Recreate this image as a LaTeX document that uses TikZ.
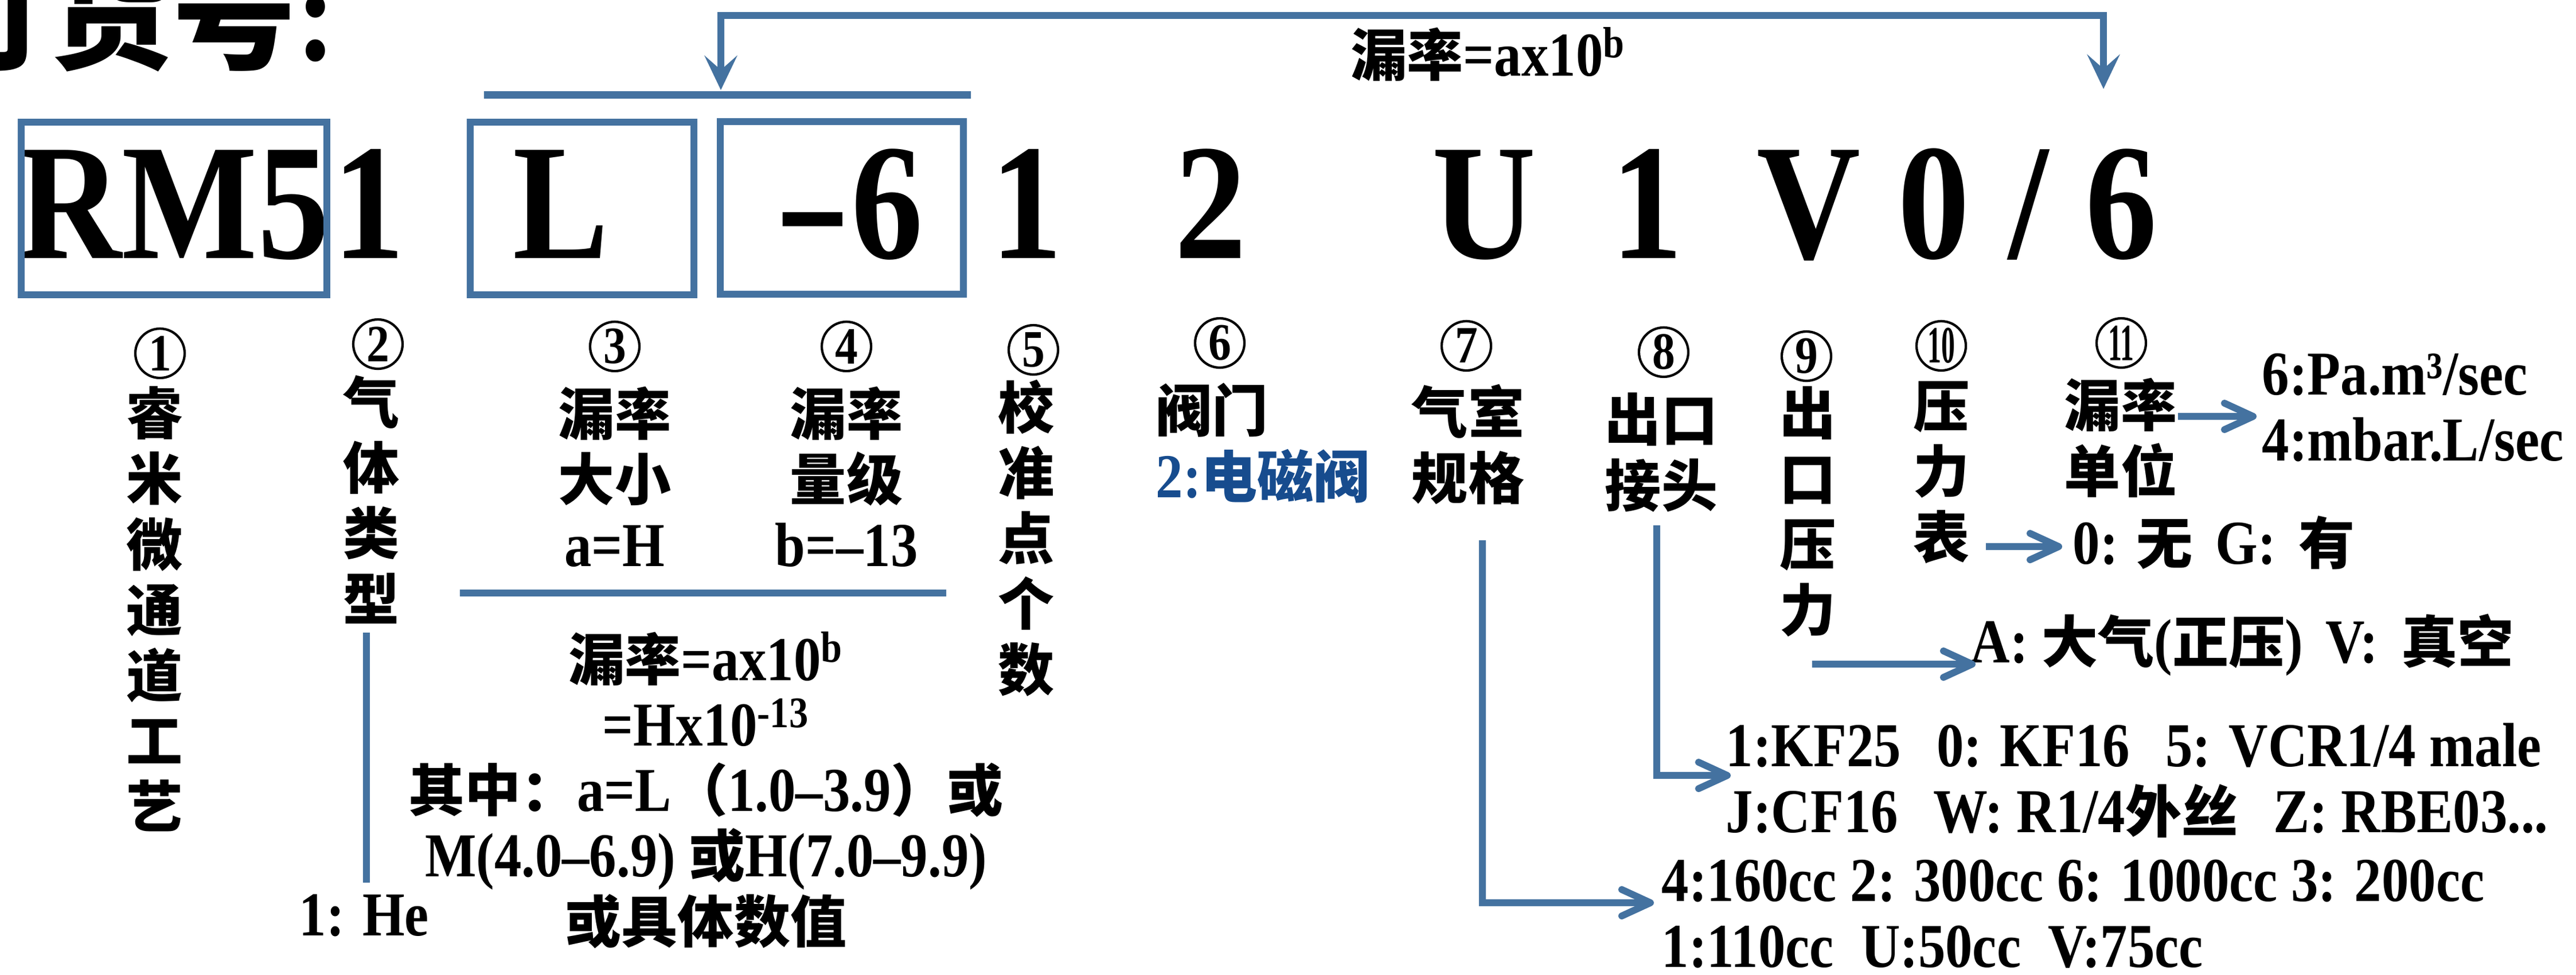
\documentclass[tikz,border=0pt]{standalone}
\usepackage{fontspec}
\setmainfont{Liberation Serif}[FakeStretch=0.87]
\newfontfamily\zhfont{Noto Sans CJK SC}[Scale=0.9]
\usetikzlibrary{arrows.meta,positioning,calc}

\definecolor{lineblue}{RGB}{68,114,160}
\definecolor{textblue}{RGB}{23,76,142}
\newcommand{\zh}[1]{{\zhfont #1}}

\begin{document}
\begin{tikzpicture}[
    code/.style={font=\fontsize{82}{82}\selectfont\bfseries, inner sep=0pt, anchor=base},
    codebox/.style={draw=lineblue, line width=3.6pt, inner sep=0pt},
    num/.style={circle, draw, line width=1.2pt, minimum size=0.86cm, inner sep=0pt, font=\fontsize{26}{26}\selectfont\bfseries},
    stack/.style={font=\fontsize{31}{32.5}\selectfont\bfseries\zhfont, align=center, inner sep=0pt, anchor=base},
    lab/.style={font=\fontsize{31}{32.5}\selectfont\bfseries, align=center, inner sep=0pt, anchor=base},
    txt/.style={font=\fontsize{31}{32.5}\selectfont\bfseries, align=left, inner sep=0pt, anchor=base west},
    bline/.style={draw=lineblue, line width=3.4pt},
    arr/.style={bline, -{Straight Barb[length=5mm,width=4.6mm,round]}},
    dblarr/.style={bline, {Stealth[length=6mm,width=5.7mm,inset=2.5mm]}-{Stealth[length=6mm,width=5.7mm,inset=2.5mm]}}
]
\useasboundingbox (0,0) rectangle (44.92,-16.99);
\clip (0,0) rectangle (44.92,-16.99);

% Title (cut off at the top)
\node[anchor=base west, inner sep=0pt, font=\fontsize{68}{68}\selectfont\bfseries] (title) at (-1.29,-1.04) {\zh{订货号}:};

% Order code
\node[code] (cRM) at (3.035,-4.50) {RM5};
\node[code] (cGas) at (6.43,-4.50) {1};
\node[code] (cL) at (9.78,-4.50) {L};
\node[code] (cExp) at (14.80,-4.50) {\scalebox{1.6}[1]{-}6};
\node[code] (cCal) at (17.90,-4.50) {1};
\node[code] (cVal) at (21.11,-4.50) {2};
\node[code] (cCh) at (25.88,-4.50) {U};
\node[code] (cOut) at (28.72,-4.50) {1};
\node[code] (cPr) at (31.54,-4.50) {V};
\node[code] (cGa) at (33.72,-4.50) {0};
\node[code] (cSl) at (35.37,-4.50) {/};
\node[code] (cUn) at (36.99,-4.50) {6};

% Boxes round the code parts
\node[codebox, minimum width=5.33cm, minimum height=3.01cm] (bRM) at (3.035,-3.635) {};
\node[codebox, minimum width=3.90cm, minimum height=3.01cm] (bL) at (10.15,-3.635) {};
\node[codebox, minimum width=4.24cm, minimum height=3.01cm] (bExp) at (14.68,-3.625) {};

% Leak rate bracket on top
\coordinate (hatL) at (8.44,-1.655);
\coordinate (hatR) at (16.93,-1.655);
\draw[bline, line width=3.7pt] (hatL) -- (hatR);
\coordinate (upL) at (12.57,-1.57);
\coordinate (upR) at (36.68,-1.55);
\draw[dblarr] (upL) -- ++(0,1.30) -| (upR);
\node[lab] (top) at (25.95,-1.32) {\zh{漏率}=ax10\textsuperscript{b}};

% Circled numbers
\node[num] (n1) at (2.79,-6.16) {1};
\node[num] (n2) at (6.59,-6.00) {2};
\node[num] (n3) at (10.72,-6.04) {3};
\node[num] (n4) at (14.76,-6.04) {4};
\node[num] (n5) at (18.02,-6.10) {5};
\node[num] (n6) at (21.27,-5.98) {6};
\node[num] (n7) at (25.57,-6.03) {7};
\node[num] (n8) at (29.01,-6.14) {8};
\node[num] (n9) at (31.50,-6.21) {9};
\node[num] (n10) at (33.85,-6.03) {\scalebox{0.6}[1]{10}};
\node[num] (n11) at (36.99,-5.98) {\scalebox{0.6}[1]{11}};

% Labels under the numbers (base = last line)
\node[stack] (lab1) at (2.70,-14.43) {睿\\米\\微\\通\\道\\工\\艺};
\node[stack] (lab2) at (6.48,-10.81) {气\\体\\类\\型};
\node[lab] (lab3) at (10.72,-9.87) {\zh{漏率}\\\zh{大小}\\a=H};
\node[lab] (lab4) at (14.76,-9.87) {\zh{漏率}\\\zh{量级}\\b=--13};
\node[stack] (lab5) at (17.90,-12.04) {校\\准\\点\\个\\数};
\node[txt] (lab6) at (20.15,-8.67) {\zh{阀门}\\{\color{textblue}2:\zh{电磁阀}}};
\node[stack] (lab7) at (25.60,-8.70) {气室\\规格};
\node[stack] (lab8) at (28.97,-8.83) {出口\\接头};
\node[stack] (lab9) at (31.52,-11.00) {出\\口\\压\\力};
\node[stack] (lab10) at (33.85,-9.73) {压\\力\\表};
\node[stack] (lab11) at (36.98,-8.58) {漏率\\单位};

% Gas type
\coordinate (s2) at (6.39,-11.03);
\node[txt] (gas) at (5.21,-16.31) {1: He};
\draw[bline] (s2) -- ++(0,-4.36);

% Leak rate explanation
\draw[bline] (8.02,-10.34) -- (16.50,-10.34);
\node[lab] (leak) at (12.31,-16.43) {\zh{漏率}=ax10\textsuperscript{b}\\=Hx10\textsuperscript{-13}\\\zh{其中：}a=L\zh{（}1.0--3.9\zh{）或}\\M(4.0--6.9) \zh{或}H(7.0--9.9)\\\zh{或具体数值}};

% Option lists on the right
\node[txt] (units) at (39.44,-8.03) {6:Pa.m³/sec\\4:mbar.L/sec};
\node[txt] (gauge) at (36.14,-9.83) {0: \zh{无}\hspace{0.4cm}G:\hspace{0.4cm}\zh{有}};
\node[txt] (pres) at (34.36,-11.55) {A: \zh{大气}(\zh{正压})\hspace{0.4cm}V:\hspace{0.4cm}\zh{真空}};
\node[txt] (port) at (30.09,-14.51) {1:KF25\hspace{0.62cm}0: KF16\hspace{0.62cm}5: VCR1/4 male\\J:CF16\hspace{0.62cm}W: R1/4\zh{外丝}\hspace{0.62cm}Z: RBE03...};
\node[txt] (cham) at (28.97,-16.86) {4:160cc 2: 300cc 6: 1000cc 3: 200cc\\1:110cc\ \ U:50cc\ \ V:75cc};

% Arrows to the option lists
\coordinate (s7) at (25.85,-9.42);
\coordinate (s8) at (28.89,-9.16);
\coordinate (s9) at (31.60,-11.58);
\coordinate (s10) at (34.63,-9.53);
\coordinate (s11) at (37.98,-7.26);
\draw[arr] (s7) |- ($(cham.base west)+(-0.13,1.12)$);
\draw[arr] (s8) |- ($(port.base west)+(0.09,0.99)$);
\draw[arr] (s9) -- ($(s9 -| pres.base west)+(0.09,0)$);
\draw[arr] (s10) -- ($(s10 -| gauge.base west)+(-0.18,0)$);
\draw[arr] (s11) -- ($(s11 -| units.base west)+(-0.09,0)$);

\end{tikzpicture}
\end{document}
